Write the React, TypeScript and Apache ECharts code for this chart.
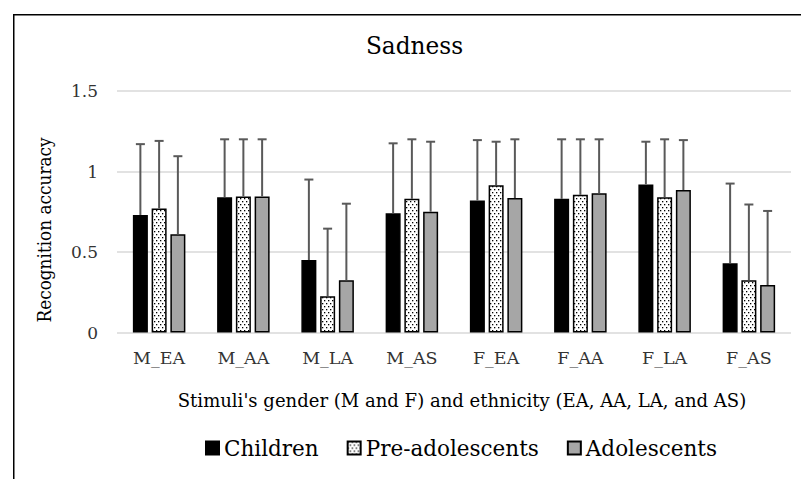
import React, { useEffect, useRef } from "react";
import * as echarts from "echarts";

const categories = ["M_EA", "M_AA", "M_LA", "M_AS", "F_EA", "F_AA", "F_LA", "F_AS"];
const seriesNames = ["Children", "Pre-adolescents", "Adolescents"];

const childrenMean = [0.73, 0.84, 0.45, 0.74, 0.82, 0.83, 0.92, 0.43];
const preMean = [0.77, 0.845, 0.225, 0.83, 0.915, 0.855, 0.84, 0.325];
const adolMean = [0.61, 0.845, 0.325, 0.75, 0.835, 0.865, 0.885, 0.295];

const childrenUpper = [1.17, 1.2, 0.95, 1.175, 1.195, 1.2, 1.185, 0.925];
const preUpper = [1.19, 1.2, 0.645, 1.2, 1.185, 1.2, 1.2, 0.795];
const adolUpper = [1.095, 1.2, 0.8, 1.185, 1.2, 1.2, 1.195, 0.755];

const yTicks = [0, 0.5, 1, 1.5];

const FONT = "DejaVu Serif";

export default function App() {
  const ref = useRef<HTMLDivElement>(null);

  useEffect(() => {
    if (!ref.current) return;
    const chart = echarts.init(ref.current, undefined, { renderer: "svg" });

    const cv = document.createElement("canvas");
    cv.width = 4;
    cv.height = 6;
    const ctx = cv.getContext("2d")!;
    ctx.fillStyle = "#ffffff";
    ctx.fillRect(0, 0, 4, 6);
    ctx.fillStyle = "#000000";
    ctx.fillRect(0, 0, 1.3, 1.3);
    ctx.fillRect(2, 3, 1.3, 1.3);
    const dotPattern: any = {
      image: cv.toDataURL(),
      repeat: "repeat",
      imageWidth: 4,
      imageHeight: 6,
    };

    const means = [childrenMean, preMean, adolMean];
    const uppers = [childrenUpper, preUpper, adolUpper];
    const colors: any[] = ["#000000", dotPattern, "#a6a6a6"];
    const barWidth = 15;
    const barGap = 0.25;
    const step = barWidth * (1 + barGap);

    const barSeries = seriesNames.map((name, s) => ({
      name,
      type: "bar",
      data: means[s],
      barWidth,
      barGap: "25%",
      itemStyle: { color: colors[s], borderColor: "#000", borderWidth: 1.5 },
      z: 2,
    }));

    const errSeries = seriesNames.map((_, s) => ({
      type: "custom",
      z: 3,
      silent: true,
      data: categories.map((_c, i) => [i, means[s][i], uppers[s][i]]),
      encode: { x: 0, y: [1, 2] },
      renderItem: (_params: any, api: any) => {
        const idx = api.value(0);
        const base = api.coord([idx, api.value(1)]);
        const top = api.coord([idx, api.value(2)]);
        const x = base[0] + (s - 1) * step;
        const st = { stroke: "#595959", lineWidth: 2 };
        return {
          type: "group",
          children: [
            { type: "line", shape: { x1: x, y1: base[1], x2: x, y2: top[1] }, style: st },
            { type: "line", shape: { x1: x - 4.5, y1: top[1], x2: x + 4.5, y2: top[1] }, style: st },
          ],
        };
      },
    }));

    chart.setOption({
      animation: false,
      backgroundColor: "#ffffff",
      textStyle: { fontFamily: FONT },
      grid: { left: 117, right: 10, top: 91, bottom: 146.5, containLabel: false },
      legend: {
        data: seriesNames,
        left: 205,
        top: 437,
        padding: 0,
        icon: "rect",
        itemWidth: 13,
        itemHeight: 13,
        itemGap: 28,
        textStyle: { fontFamily: FONT, fontSize: 21.5, color: "#000" },
      },
      xAxis: {
        type: "category",
        data: categories,
        axisLine: { show: false },
        axisTick: { show: false },
        axisLabel: {
          fontFamily: FONT,
          fontSize: 17.5,
          color: "#333",
          margin: 25,
          verticalAlign: "middle",
        },
      },
      yAxis: {
        type: "value",
        min: yTicks[0],
        max: yTicks[yTicks.length - 1],
        interval: 0.5,
        axisLine: { show: false },
        axisTick: { show: false },
        axisLabel: { fontFamily: FONT, fontSize: 17, color: "#333", margin: 19 },
        splitLine: { lineStyle: { color: "#d9d9d9", width: 1.5 } },
      },
      graphic: [
        {
          type: "rect",
          shape: { x: 13.75, y: 14.75, width: 800, height: 480 },
          style: { fill: "none", stroke: "#000", lineWidth: 1.5 },
          silent: true,
        },
        {
          type: "text",
          x: 414.5,
          y: 46,
          scaleX: 0.93,
          style: {
            text: "Sadness",
            fontFamily: FONT,
            fontSize: 25,
            fill: "#000",
            align: "center",
            verticalAlign: "middle",
          },
        },
        {
          type: "text",
          x: 462,
          y: 400,
          scaleX: 0.95,
          style: {
            text: "Stimuli's gender (M and F) and ethnicity (EA, AA, LA, and AS)",
            fontFamily: FONT,
            fontSize: 19,
            fill: "#000",
            align: "center",
            verticalAlign: "middle",
          },
        },
        {
          type: "text",
          x: 44,
          y: 230,
          rotation: Math.PI / 2,
          scaleX: 0.89,
          style: {
            text: "Recognition accuracy",
            fontFamily: FONT,
            fontSize: 19,
            fill: "#000",
            align: "center",
            verticalAlign: "middle",
          },
        },
      ],
      series: [...barSeries, ...errSeries],
    });

    return () => chart.dispose();
  }, []);

  return (
    <div
      ref={ref}
      style={{ position: "fixed", left: 0, top: 0, width: 801, height: 479, background: "#fff" }}
    />
  );
}
